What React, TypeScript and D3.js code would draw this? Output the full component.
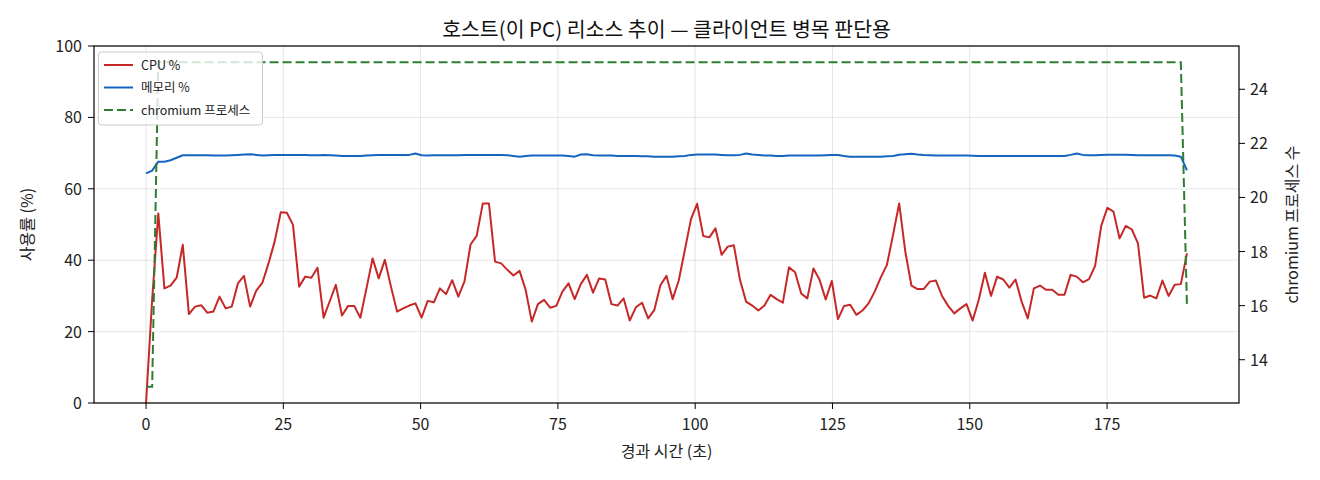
import { useEffect } from "react";
import * as d3 from "d3";

// sampling interval (s) between consecutive measurements
const SAMPLE_SEC = 1.115;

const cpuPct = [
  0, 29, 53.1, 32.1, 32.9, 35.1, 44.3, 24.9, 27.0, 27.4, 25.3, 25.6, 29.8, 26.5, 27.0, 33.5, 35.6, 27.0, 31.5, 33.7,
  39.1, 45.2, 53.4, 53.3, 49.9, 32.6, 35.4, 35.1, 37.9, 23.9, 28.5, 33.1, 24.5, 27.2, 27.2, 23.9, 32.1, 40.5, 34.9, 40.1,
  32.6, 25.6, 26.5, 27.3, 27.9, 23.9, 28.6, 28.2, 32.1, 30.5, 34.4, 29.8, 34.0, 44.4, 46.8, 55.9, 55.9, 39.6, 39.1, 37.3,
  35.7, 37.0, 31.7, 22.8, 27.7, 28.9, 26.7, 27.2, 31.2, 33.5, 29.1, 33.3, 35.9, 30.9, 34.9, 34.6, 27.7, 27.3, 29.3, 23.1,
  26.8, 28.1, 23.7, 26.0, 33.0, 35.6, 29.1, 34.3, 42.9, 51.5, 55.8, 46.8, 46.4, 48.9, 41.5, 43.8, 44.2, 34.5, 28.4, 27.3,
  25.9, 27.3, 30.3, 29.1, 28.1, 38.0, 36.6, 30.7, 29.3, 37.7, 34.5, 29.0, 34.2, 23.5, 27.2, 27.5, 24.7, 25.9, 27.9, 31.2,
  35.2, 38.7, 47.1, 55.9, 42.4, 32.9, 31.9, 31.9, 34.0, 34.3, 30.0, 27.2, 25.1, 26.5, 27.7, 23.1, 28.9, 36.5, 30.0, 35.4,
  34.6, 32.3, 34.6, 28.4, 23.7, 32.1, 32.9, 31.7, 31.7, 30.3, 30.3, 35.9, 35.4, 33.8, 34.7, 38.4, 49.6, 54.7, 53.6, 46.1,
  49.6, 48.6, 44.7, 29.5, 30.1, 29.3, 34.3, 30.0, 33.1, 33.3, 41.9,
];

const memPct = [
  64.3, 65.1, 67.6, 67.6, 68.0, 68.7, 69.4, 69.4, 69.4, 69.4, 69.4, 69.3, 69.3, 69.3, 69.4, 69.5, 69.6, 69.7, 69.5, 69.3,
  69.4, 69.5, 69.5, 69.5, 69.5, 69.5, 69.5, 69.4, 69.4, 69.45, 69.4, 69.3, 69.2, 69.2, 69.2, 69.2, 69.3, 69.4, 69.45, 69.45,
  69.45, 69.45, 69.45, 69.5, 69.9, 69.4, 69.3, 69.4, 69.4, 69.4, 69.4, 69.4, 69.45, 69.45, 69.45, 69.45, 69.45, 69.45, 69.45, 69.4,
  69.2, 69.0, 69.2, 69.3, 69.3, 69.3, 69.3, 69.3, 69.3, 69.2, 69.0, 69.6, 69.65, 69.4, 69.3, 69.3, 69.3, 69.2, 69.2, 69.2,
  69.2, 69.1, 69.1, 69.0, 69.0, 69.0, 69.0, 69.1, 69.2, 69.5, 69.6, 69.6, 69.6, 69.6, 69.5, 69.4, 69.4, 69.5, 69.9, 69.6,
  69.5, 69.3, 69.3, 69.2, 69.2, 69.3, 69.3, 69.3, 69.3, 69.3, 69.3, 69.4, 69.45, 69.45, 69.2, 69.0, 69.0, 69.0, 69.0, 69.0,
  69.0, 69.1, 69.2, 69.55, 69.7, 69.85, 69.6, 69.45, 69.4, 69.35, 69.3, 69.3, 69.3, 69.3, 69.3, 69.25, 69.2, 69.2, 69.2, 69.2,
  69.2, 69.2, 69.2, 69.2, 69.2, 69.2, 69.2, 69.2, 69.2, 69.2, 69.2, 69.5, 69.9, 69.5, 69.4, 69.4, 69.5, 69.55, 69.55, 69.55,
  69.55, 69.5, 69.4, 69.4, 69.4, 69.4, 69.4, 69.4, 69.35, 69.0, 65.2,
];

const chromiumProcs = [
  13, 13, 25, 25, 25, 25, 25, 25, 25, 25, 25, 25, 25, 25, 25, 25, 25, 25, 25, 25,
  25, 25, 25, 25, 25, 25, 25, 25, 25, 25, 25, 25, 25, 25, 25, 25, 25, 25, 25, 25,
  25, 25, 25, 25, 25, 25, 25, 25, 25, 25, 25, 25, 25, 25, 25, 25, 25, 25, 25, 25,
  25, 25, 25, 25, 25, 25, 25, 25, 25, 25, 25, 25, 25, 25, 25, 25, 25, 25, 25, 25,
  25, 25, 25, 25, 25, 25, 25, 25, 25, 25, 25, 25, 25, 25, 25, 25, 25, 25, 25, 25,
  25, 25, 25, 25, 25, 25, 25, 25, 25, 25, 25, 25, 25, 25, 25, 25, 25, 25, 25, 25,
  25, 25, 25, 25, 25, 25, 25, 25, 25, 25, 25, 25, 25, 25, 25, 25, 25, 25, 25, 25,
  25, 25, 25, 25, 25, 25, 25, 25, 25, 25, 25, 25, 25, 25, 25, 25, 25, 25, 25, 25,
  25, 25, 25, 25, 25, 25, 25, 25, 25, 25, 16,
];

const xTicks = [0, 25, 50, 75, 100, 125, 150, 175];
const yTicks = [0, 20, 40, 60, 80, 100];
const y2Ticks = [14, 16, 18, 20, 22, 24];

const legendItems = [
  { label: "CPU %", color: "#c62828", dash: "" },
  { label: "메모리 %", color: "#1565c0", dash: "" },
  { label: "chromium 프로세스", color: "#2e7d32", dash: "9,4" },
];

const W = 1320;
const H = 480;
const m = { left: 94, right: 1239, top: 46, bottom: 403 };
const FONT = "'Noto Sans CJK KR', 'Noto Sans', sans-serif";

export default function App() {
  useEffect(() => {
    document.body.style.margin = "0";
  }, []);

  const times = cpuPct.map((_, i) => i * SAMPLE_SEC);
  const tMax = d3.max(times) as number;
  const x = d3
    .scaleLinear()
    .domain([-0.05 * tMax, tMax * 1.05])
    .range([m.left, m.right]);
  const y = d3.scaleLinear().domain([0, 100]).range([m.bottom, m.top]);
  const pMin = d3.min(chromiumProcs) as number;
  const pMax = d3.max(chromiumProcs) as number;
  const pPad = (pMax - pMin) * 0.05;
  const y2 = d3
    .scaleLinear()
    .domain([pMin - pPad, pMax + pPad])
    .range([m.bottom, m.top]);

  const line = (vals: number[], sc: d3.ScaleLinear<number, number>) =>
    d3
      .line<number>()
      .x((_, i) => x(times[i]))
      .y((v) => sc(v))(vals) as string;

  const cx = (m.left + m.right) / 2;
  const cy = (m.top + m.bottom) / 2;

  return (
    <svg width={W} height={H} style={{ display: "block" }} fontFamily={FONT}>
      <rect width={W} height={H} fill="#fff" />
      {/* grid */}
      <g stroke="#b0b0b0" strokeOpacity={0.3} strokeWidth={1}>
        {xTicks.map((t) => (
          <line key={"gx" + t} x1={x(t)} x2={x(t)} y1={m.top} y2={m.bottom} />
        ))}
        {yTicks.map((t) => (
          <line key={"gy" + t} x1={m.left} x2={m.right} y1={y(t)} y2={y(t)} />
        ))}
      </g>

      {/* series */}
      <path d={line(cpuPct, y)} fill="none" stroke="#c62828" strokeWidth={2} strokeLinejoin="round" />
      <path d={line(memPct, y)} fill="none" stroke="#1565c0" strokeWidth={2} strokeLinejoin="round" />
      <path
        d={line(chromiumProcs, y2)}
        fill="none"
        stroke="#2e7d32"
        strokeWidth={2}
        strokeDasharray="9,4"
      />

      {/* frame */}
      <rect
        x={m.left}
        y={m.top}
        width={m.right - m.left}
        height={m.bottom - m.top}
        fill="none"
        stroke="#000"
        strokeWidth={1.2}
      />

      {/* x axis */}
      {xTicks.map((t) => (
        <g key={"xt" + t}>
          <line x1={x(t)} x2={x(t)} y1={m.bottom} y2={m.bottom + 6} stroke="#000" />
          <text x={x(t)} y={m.bottom + 27} textAnchor="middle" fontSize={16} fill="#222">
            {t}
          </text>
        </g>
      ))}
      {/* left axis */}
      {yTicks.map((t) => (
        <g key={"yt" + t}>
          <line x1={m.left - 6} x2={m.left} y1={y(t)} y2={y(t)} stroke="#000" />
          <text x={m.left - 12} y={y(t) + 6} textAnchor="end" fontSize={16} fill="#222">
            {t}
          </text>
        </g>
      ))}
      {/* right axis */}
      {y2Ticks.map((t) => (
        <g key={"y2t" + t}>
          <line x1={m.right} x2={m.right + 6} y1={y2(t)} y2={y2(t)} stroke="#000" />
          <text x={m.right + 11} y={y2(t) + 6} textAnchor="start" fontSize={16} fill="#222">
            {t}
          </text>
        </g>
      ))}

      {/* labels */}
      <text x={cx} y={37} textAnchor="middle" fontSize={20.5} fill="#111">
        호스트(이 PC) 리소스 추이 — 클라이언트 병목 판단용
      </text>
      <text x={cx} y={457} textAnchor="middle" fontSize={16} fill="#222">
        경과 시간 (초)
      </text>
      <text
        transform={`translate(33,${cy}) rotate(-90)`}
        textAnchor="middle"
        fontSize={16}
        fill="#222"
      >
        사용률 (%)
      </text>
      <text
        transform={`translate(1298,${cy}) rotate(-90)`}
        textAnchor="middle"
        fontSize={16}
        fill="#222"
      >
        chromium 프로세스 수
      </text>

      {/* legend */}
      <g>
        <rect
          x={98.5}
          y={52}
          width={164}
          height={73}
          rx={3}
          fill="#fff"
          fillOpacity={0.8}
          stroke="#cccccc"
        />
        {legendItems.map((d, i) => (
          <g key={d.label} transform={`translate(0,${65 + i * 22.5})`}>
            <line
              x1={104}
              x2={133}
              y1={0}
              y2={0}
              stroke={d.color}
              strokeWidth={2}
              strokeDasharray={d.dash || undefined}
            />
            <text x={141} y={4.5} fontSize={12.5} fill="#222">
              {d.label}
            </text>
          </g>
        ))}
      </g>
    </svg>
  );
}
